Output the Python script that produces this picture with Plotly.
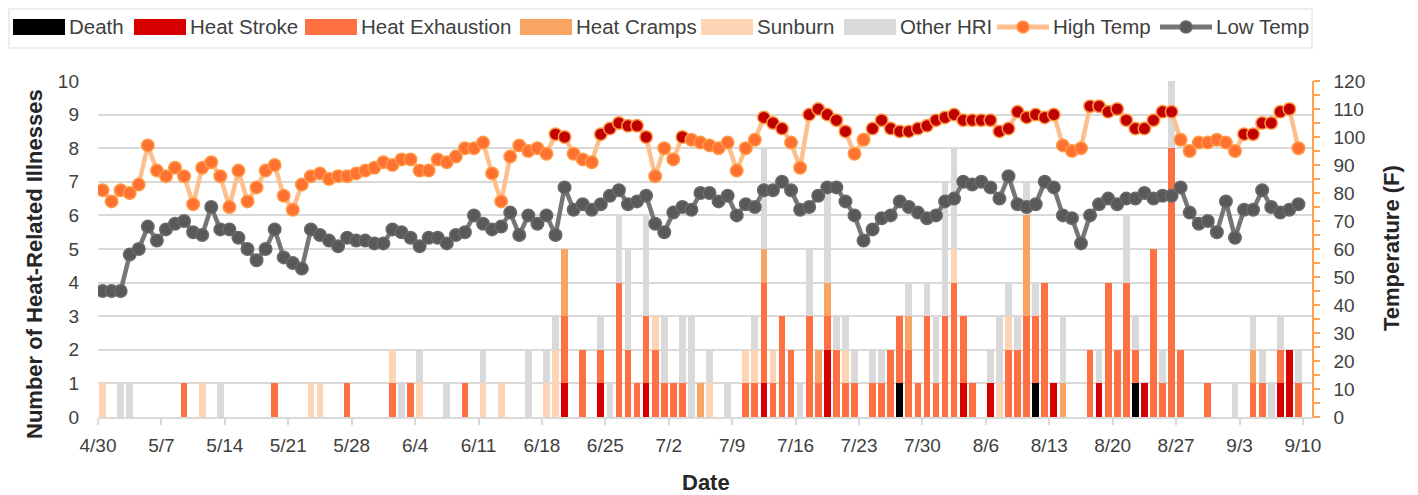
import pandas as pd
import plotly.graph_objects as go

# ---------------- data (one value per day, 4/30 .. 9/9; rows = weeks) ----------------
start_date = "2019-04-30"

high_temp = [
    81, 77, 81, 80, 83, 97, 88,
    86, 89, 86, 76, 89, 91, 86,
    75, 88, 77, 82, 88, 90, 79,
    74, 83, 86, 87, 85, 86, 86,
    87, 88, 89, 91, 90, 92, 92,
    88, 88, 92, 91, 93, 96, 96,
    98, 87, 77, 93, 97, 95, 96,
    94, 101, 100, 94, 92, 91, 101,
    103, 105, 104, 104, 100, 86, 96,
    92, 100, 99, 98, 97, 96, 98,
    88, 96, 99, 107, 105, 103, 98,
    89, 108, 110, 108, 106, 102, 94,
    99, 103, 106, 103, 102, 102, 103,
    104, 106, 107, 108, 106, 106, 106,
    106, 102, 103, 109, 107, 108, 107,
    108, 97, 95, 96, 111, 111, 109,
    110, 106, 103, 103, 106, 109, 109,
    99, 95, 98, 98, 99, 98, 95,
    101, 101, 105, 105, 109, 110, 96,
]

low_temp = [
    45, 45, 45, 58, 60, 68, 63,
    67, 69, 70, 66, 65, 75, 67,
    67, 64, 60, 56, 60, 67, 57,
    55, 53, 67, 65, 63, 61, 64,
    63, 63, 62, 62, 67, 66, 64,
    61, 64, 64, 62, 65, 66, 72,
    69, 67, 68, 73, 65, 72, 69,
    72, 65, 82, 74, 76, 74, 76,
    79, 81, 76, 77, 79, 69, 66,
    73, 75, 74, 80, 80, 77, 79,
    72, 76, 75, 81, 81, 84, 81,
    74, 75, 79, 82, 82, 77, 72,
    63, 67, 71, 72, 77, 75, 73,
    71, 72, 77, 78, 84, 83, 84,
    82, 78, 86, 76, 75, 76, 84,
    82, 72, 71, 62, 72, 76, 78,
    76, 78, 78, 80, 78, 79, 79,
    82, 73, 69, 70, 66, 77, 64,
    74, 74, 81, 75, 73, 74, 76,
]

death = [
    0, 0, 0, 0, 0, 0, 0,
    0, 0, 0, 0, 0, 0, 0,
    0, 0, 0, 0, 0, 0, 0,
    0, 0, 0, 0, 0, 0, 0,
    0, 0, 0, 0, 0, 0, 0,
    0, 0, 0, 0, 0, 0, 0,
    0, 0, 0, 0, 0, 0, 0,
    0, 0, 0, 0, 0, 0, 0,
    0, 0, 0, 0, 0, 0, 0,
    0, 0, 0, 0, 0, 0, 0,
    0, 0, 0, 0, 0, 0, 0,
    0, 0, 0, 0, 0, 0, 0,
    0, 0, 0, 0, 1, 0, 0,
    0, 0, 0, 0, 0, 0, 0,
    0, 0, 0, 0, 0, 1, 0,
    0, 0, 0, 0, 0, 0, 0,
    0, 0, 1, 0, 0, 0, 0,
    0, 0, 0, 0, 0, 0, 0,
    0, 0, 0, 0, 0, 0, 0,
]

heat_stroke = [
    0, 0, 0, 0, 0, 0, 0,
    0, 0, 0, 0, 0, 0, 0,
    0, 0, 0, 0, 0, 0, 0,
    0, 0, 0, 0, 0, 0, 0,
    0, 0, 0, 0, 0, 0, 0,
    0, 0, 0, 0, 0, 0, 0,
    0, 0, 0, 0, 0, 0, 0,
    0, 0, 1, 0, 0, 0, 1,
    0, 0, 0, 0, 1, 0, 0,
    0, 0, 0, 0, 0, 0, 0,
    0, 0, 0, 1, 0, 0, 0,
    0, 0, 0, 2, 0, 0, 0,
    0, 0, 0, 0, 0, 0, 0,
    0, 0, 0, 0, 1, 0, 0,
    1, 0, 0, 0, 0, 0, 0,
    1, 0, 0, 0, 0, 1, 0,
    0, 0, 0, 1, 0, 0, 0,
    0, 0, 0, 0, 0, 0, 0,
    0, 0, 0, 0, 1, 2, 0,
]

heat_exhaustion = [
    0, 0, 0, 0, 0, 0, 0,
    0, 0, 1, 0, 0, 0, 0,
    0, 0, 0, 0, 0, 1, 0,
    0, 0, 0, 0, 0, 0, 1,
    0, 0, 0, 0, 1, 0, 1,
    0, 0, 0, 0, 0, 1, 0,
    0, 0, 0, 0, 0, 0, 0,
    0, 0, 2, 0, 2, 0, 1,
    0, 4, 2, 1, 2, 2, 1,
    1, 1, 0, 0, 0, 0, 0,
    0, 1, 1, 3, 1, 3, 2,
    0, 3, 1, 1, 2, 1, 1,
    0, 1, 1, 2, 2, 2, 1,
    3, 1, 3, 4, 2, 1, 0,
    0, 0, 2, 2, 3, 2, 4,
    0, 0, 0, 0, 2, 0, 4,
    2, 4, 1, 0, 5, 1, 8,
    2, 0, 0, 1, 0, 0, 0,
    0, 1, 1, 0, 1, 0, 1,
]

heat_cramps = [
    0, 0, 0, 0, 0, 0, 0,
    0, 0, 0, 0, 0, 0, 0,
    0, 0, 0, 0, 0, 0, 0,
    0, 0, 0, 0, 0, 0, 0,
    0, 0, 0, 0, 0, 0, 0,
    0, 0, 0, 0, 0, 0, 0,
    0, 0, 0, 0, 0, 0, 0,
    0, 0, 2, 0, 0, 0, 0,
    0, 0, 0, 0, 0, 0, 0,
    0, 0, 0, 1, 0, 0, 0,
    0, 0, 0, 1, 0, 0, 0,
    0, 0, 1, 1, 0, 0, 0,
    0, 0, 0, 0, 0, 1, 0,
    0, 0, 0, 0, 0, 0, 0,
    0, 0, 0, 0, 3, 0, 0,
    0, 1, 0, 0, 0, 0, 0,
    0, 0, 0, 0, 0, 0, 0,
    0, 0, 0, 0, 0, 0, 0,
    0, 1, 0, 0, 0, 0, 0,
]

sunburn = [
    1, 0, 0, 0, 0, 0, 0,
    0, 0, 0, 0, 1, 0, 0,
    0, 0, 0, 0, 0, 0, 0,
    0, 0, 1, 1, 0, 0, 0,
    0, 0, 0, 0, 1, 0, 0,
    1, 0, 0, 0, 0, 0, 0,
    1, 0, 1, 0, 0, 0, 0,
    1, 2, 0, 0, 0, 0, 0,
    0, 0, 0, 0, 0, 1, 0,
    0, 0, 0, 0, 1, 0, 0,
    0, 1, 1, 0, 1, 0, 0,
    0, 0, 0, 0, 0, 1, 0,
    0, 0, 0, 0, 0, 0, 0,
    0, 0, 0, 1, 0, 0, 0,
    0, 1, 1, 0, 0, 0, 0,
    0, 0, 0, 0, 0, 0, 0,
    0, 0, 0, 0, 0, 0, 0,
    0, 0, 0, 0, 0, 0, 0,
    0, 0, 0, 0, 0, 0, 0,
]

other_hri = [
    0, 0, 1, 1, 0, 0, 0,
    0, 0, 0, 0, 0, 0, 1,
    0, 0, 0, 0, 0, 0, 0,
    0, 0, 0, 0, 0, 0, 0,
    0, 0, 0, 0, 0, 1, 0,
    1, 0, 0, 1, 0, 0, 0,
    1, 0, 0, 0, 0, 2, 0,
    1, 1, 0, 0, 0, 0, 1,
    1, 2, 3, 0, 3, 0, 2,
    0, 2, 3, 0, 1, 0, 1,
    0, 0, 1, 3, 0, 0, 0,
    1, 2, 0, 3, 1, 1, 1,
    0, 1, 1, 0, 0, 1, 0,
    1, 2, 4, 3, 0, 0, 0,
    1, 2, 1, 1, 1, 1, 0,
    0, 2, 0, 0, 0, 1, 0,
    0, 2, 1, 0, 0, 1, 2,
    0, 0, 0, 0, 0, 0, 1,
    0, 1, 1, 1, 1, 0, 1,
]

tick_labels = ["4/30", "5/7", "5/14", "5/21", "5/28", "6/4", "6/11", "6/18", "6/25",
               "7/2", "7/9", "7/16", "7/23", "7/30", "8/6", "8/13", "8/20", "8/27",
               "9/3", "9/10"]

bar_series = [
    ("Death", death, "#000000"),
    ("Heat Stroke", heat_stroke, "#D70000"),
    ("Heat Exhaustion", heat_exhaustion, "#FF7043"),
    ("Heat Cramps", heat_cramps, "#F8A462"),
    ("Sunburn", sunburn, "#FDD5B5"),
    ("Other HRI", other_hri, "#D9D9D9"),
]

HIGH_LINE = "#FDBF8D"
HIGH_MARK = "#FF7131"
HIGH_HOT = "#C00000"
HIGH_EDGE = "#FF9A45"
LOW_LINE = "#767676"
LOW_MARK = "#595959"
LOW_EDGE = "#6A6A6A"
TEXT = "#404040"
FONT = "Liberation Sans, Arial, sans-serif"

# ---------------- figure ----------------
dates = pd.date_range(start_date, periods=len(high_temp), freq="D")
xs = dates + pd.Timedelta(hours=12)
day_ms = 86400000

fig = go.Figure()
for name, vals, color in bar_series:
    fig.add_trace(go.Bar(
        x=xs, y=[v if v else None for v in vals], name=name,
        marker=dict(color=color, line=dict(width=0)),
        width=0.74 * day_ms, showlegend=False, yaxis="y",
    ))

fig.add_trace(go.Scatter(
    x=xs, y=high_temp, name="High Temp", yaxis="y2", mode="lines+markers",
    line=dict(color=HIGH_LINE, width=4.5),
    marker=dict(size=12.5, color=[HIGH_HOT if v >= 100 else HIGH_MARK for v in high_temp],
                line=dict(color=HIGH_EDGE, width=1.5)),
    showlegend=False,
))
fig.add_trace(go.Scatter(
    x=xs, y=low_temp, name="Low Temp", yaxis="y2", mode="lines+markers",
    line=dict(color=LOW_LINE, width=4.5),
    marker=dict(size=12.5, color=LOW_MARK, line=dict(color=LOW_EDGE, width=1.5)),
    showlegend=False,
))

# The page body has an 8px default margin, so the figure is drawn 8px in from
# the window's top-left corner; sizes below are chosen in window pixels.
BODY = 8
WIN_W, WIN_H = 1418, 495
W, H = WIN_W - BODY, WIN_H - BODY
PLOT_X0, PLOT_X1, PLOT_Y0, PLOT_Y1 = 98, 1312, 81, 417   # window pixels
L, R = PLOT_X0 - BODY, WIN_W - PLOT_X1
T, B = PLOT_Y0 - BODY, WIN_H - PLOT_Y1
PW, PH = PLOT_X1 - PLOT_X0, PLOT_Y1 - PLOT_Y0


def px(xp):
    return (xp - PLOT_X0) / PW


def py(yp):
    return (PLOT_Y1 - yp) / PH


tick_dates = pd.to_datetime(["2019/" + t for t in tick_labels], format="%Y/%m/%d")

shapes = []
annotations = []

# legend frame
shapes.append(dict(type="rect", xref="paper", yref="paper",
                   x0=px(9), x1=px(1312), y0=py(48), y1=py(9),
                   line=dict(color="#EDEDED", width=2), fillcolor="rgba(0,0,0,0)"))

legend_bar_x = [13, 134, 305, 520, 701, 844]
for (name, _, color), lx in zip(bar_series, legend_bar_x):
    shapes.append(dict(type="rect", xref="paper", yref="paper",
                       x0=px(lx), x1=px(lx + 52), y0=py(35), y1=py(19),
                       fillcolor=color, line=dict(width=0)))
    annotations.append(dict(text=name, xref="paper", yref="paper", x=px(lx + 54), y=py(27),
                            xanchor="left", yanchor="middle", showarrow=False,
                            font=dict(size=20.5, color=TEXT, family=FONT)))

for name, lx, lc, mc, ec in [("High Temp", 997, HIGH_LINE, HIGH_MARK, HIGH_EDGE),
                             ("Low Temp", 1160, LOW_LINE, LOW_MARK, LOW_EDGE)]:
    shapes.append(dict(type="line", xref="paper", yref="paper",
                       x0=px(lx), x1=px(lx + 52), y0=py(27), y1=py(27),
                       line=dict(color=lc, width=5)))
    shapes.append(dict(type="circle", xref="paper", yref="paper",
                       x0=px(lx + 20), x1=px(lx + 32), y0=py(33), y1=py(21),
                       fillcolor=mc, line=dict(color=ec, width=1.5)))
    annotations.append(dict(text=name, xref="paper", yref="paper", x=px(lx + 54), y=py(27),
                            xanchor="left", yanchor="middle", showarrow=False,
                            font=dict(size=20.5, color=TEXT, family=FONT)))

# axis titles
annotations.append(dict(text="<b>Number of Heat-Related Illnesses</b>", xref="paper", yref="paper",
                        x=px(34), y=py(264), textangle=-90, showarrow=False,
                        xanchor="center", yanchor="middle",
                        font=dict(size=22, color="#262626", family=FONT)))
annotations.append(dict(text="<b>Temperature (F)</b>", xref="paper", yref="paper",
                        x=px(1391), y=py(248), textangle=-90, showarrow=False,
                        xanchor="center", yanchor="middle",
                        font=dict(size=22, color="#262626", family=FONT)))
annotations.append(dict(text="<b>Date</b>", xref="paper", yref="paper",
                        x=px(706), y=py(482), showarrow=False,
                        xanchor="center", yanchor="middle",
                        font=dict(size=22, color="#262626", family=FONT)))

fig.update_layout(
    width=W, height=H, autosize=False,
    margin=dict(l=L, r=R, t=T, b=B, pad=0),
    paper_bgcolor="white", plot_bgcolor="white",
    barmode="stack",
    font=dict(family=FONT, color=TEXT, size=19),
    showlegend=False,
    shapes=shapes, annotations=annotations,
    xaxis=dict(
        type="date",
        range=[dates[0], dates[0] + pd.Timedelta(days=134)],
        tickmode="array", tickvals=tick_dates, ticktext=tick_labels,
        ticks="outside", ticklen=6, tickwidth=1.5, tickcolor="#D9D9D9",
        showline=True, linecolor="#D9D9D9", linewidth=1.5,
        showgrid=False, zeroline=False,
        tickfont=dict(size=19, color=TEXT),
        ticklabelstandoff=4,
    ),
    yaxis=dict(
        range=[0, 10], dtick=1, tick0=0,
        showgrid=True, gridcolor="#D9D9D9", gridwidth=1.5,
        showline=False, zeroline=False, ticks="",
        tickfont=dict(size=19, color=TEXT),
        ticklabelstandoff=18,
    ),
    yaxis2=dict(
        range=[0, 120], dtick=10, tick0=0,
        overlaying="y", side="right",
        showgrid=False, zeroline=False,
        showline=True, linecolor="#FFA04F", linewidth=1.5,
        ticks="outside", ticklen=6, tickwidth=1.5, tickcolor="#FFA04F",
        minor=dict(dtick=5, ticks="outside", ticklen=6, tickwidth=1.5, tickcolor="#FFA04F"),
        tickfont=dict(size=19, color=TEXT),
        ticklabelstandoff=10,
    ),
)

fig.write_html("out.html")
